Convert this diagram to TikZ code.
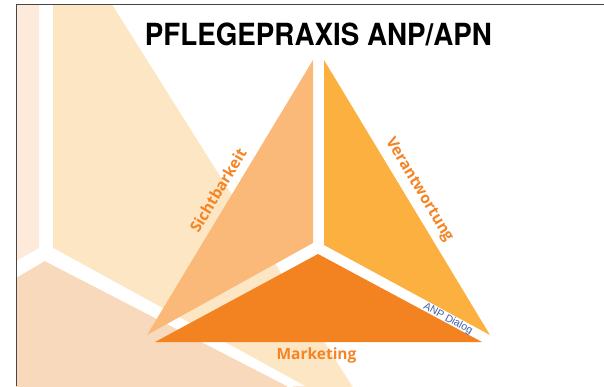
\documentclass[tikz,border=0pt]{standalone}
\usepackage{fontspec}
\setmainfont{Carlito}
\newfontfamily\titlefont{TeX Gyre Heros}
\newfontfamily\labelfont{Open Sans}
\newfontfamily\dialogfont{Liberation Sans}
\definecolor{bgpale}{RGB}{254,234,218}
\definecolor{bgbeige}{RGB}{253,230,196}
\definecolor{bgpeach}{RGB}{249,217,188}
\definecolor{sichtfill}{RGB}{250,185,120}
\definecolor{verantfill}{RGB}{251,176,64}
\definecolor{marketfill}{RGB}{243,130,33}
\definecolor{labelorange}{RGB}{244,132,36}
\definecolor{dialogblue}{RGB}{60,95,170}
\definecolor{framegray}{RGB}{70,70,70}
\tikzset{
  label text/.style={text=labelorange, font=\labelfont\bfseries\fontsize{15.5}{15.5}\selectfont, inner sep=0pt},
  dialog text/.style={text=dialogblue, font=\dialogfont\fontsize{10.5}{10.5}\selectfont, inner sep=0pt}
}
\begin{document}
\begin{tikzpicture}[x=1pt, y=-1pt, line join=round]
	\useasboundingbox (0,0) rectangle (604,386);
	% faded background copy
	\begin{scope}
	\clip (16,4) rectangle (604,386);
	\fill[bgpale] (16,4) -- (39,4) -- (39,248) -- (16,261) -- cycle;
	\fill[bgbeige] (53,4) -- (111.7,4) -- (386,440) -- (53,248) -- cycle;
	\fill[bgpeach] (16,278) -- (45,261) -- (287,386) -- (290,400) -- (16,400) -- cycle;
	\end{scope}
	\fill[white] (53,248) -- (305,386) -- (287,386) -- (45,261) -- cycle;
	% the three parts
	\coordinate (s1) at (313,60);
	\coordinate (s2) at (313,243);
	\coordinate (s3) at (147,335);
	\coordinate (v1) at (324,60);
	\coordinate (v2) at (324,245);
	\coordinate (v3) at (490,335);
	\coordinate (m1) at (318,254);
	\coordinate (m2) at (155,342);
	\coordinate (m3) at (482,342);
	\fill[sichtfill] (s1) -- (s2) -- (s3) -- cycle;
	\fill[verantfill] (v1) -- (v2) -- (v3) -- cycle;
	\fill[marketfill] (m1) -- (m2) -- (m3) -- cycle;
	\node[inner sep=0pt, font=\titlefont\bfseries\fontsize{30.5}{30.5}\selectfont] (title) at (318.4,34) {\scalebox{0.91}[1]{PFLEGEPRAXIS ANP/APN}};
	\node[label text, rotate=59] (sicht) at (218,190) {Sichtbarkeit};
	\node[label text, rotate=-59] (verant) at (419,190) {Verantwortung};
	\node[label text] (market) at (316.5,355) {Marketing};
	\node[dialog text, rotate=-28.5] (dialog) at (448,319) {ANP Dialog};
	% frame
	\draw[framegray, line width=1.5pt] (16.5,386) -- (16.5,4.5) -- (604,4.5);
\end{tikzpicture}
\end{document}
